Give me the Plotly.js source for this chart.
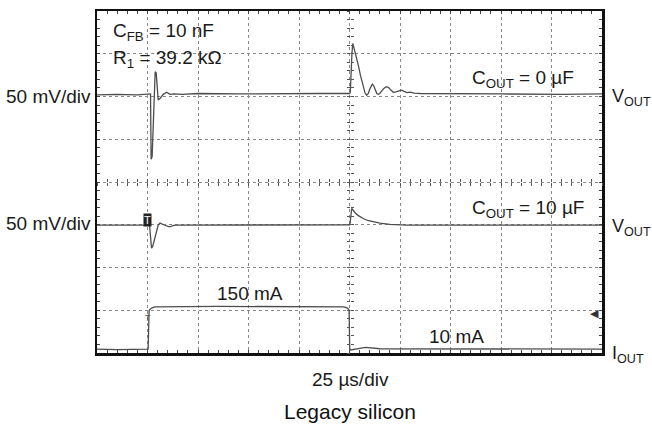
<!DOCTYPE html>
<html>
<head>
<meta charset="utf-8">
<script src="https://cdn.plot.ly/plotly-3.0.1.min.js"></script>
<style>html,body{margin:0;padding:0;background:#fff;}#chart{width:652px;height:424px;}</style>
</head>
<body>
<div id="chart"></div>
<script>
// time in microseconds (25 us/div, 10 divisions), amplitude in screen divisions (8 divisions)
var t1 = [0, 10, 20, 25.6, 26.5, 26.8, 27.3, 28.8, 29.3, 30.3, 31.3, 32.8, 34.5, 36.1, 38, 42, 50, 70, 90, 110, 125.0, 125.4, 126.2, 126.6,
          127.3, 128.0, 128.8, 129.6, 130.4, 131.2, 132.0, 132.7, 133.5, 134.3, 135.0, 135.7, 136.3, 137.0, 137.8, 138.5, 139.2, 140.0,
          141.0, 142.0, 143.2, 144.4, 145.5, 146.7, 148.0, 149.5, 150.8, 152.0, 153.5, 155, 157, 160, 170, 200, 230, 250];
var v1 = [6.04, 6.05, 6.04, 6.05, 6.06, 4.53, 4.60, 6.58, 6.55, 5.92, 5.96, 6.05, 6.10, 6.05, 6.06, 6.05, 6.07, 6.06, 6.07, 6.07, 6.07, 6.10, 7.00, 7.24,
          7.12, 7.00, 6.85, 6.68, 6.50, 6.33, 6.18, 6.08, 6.03, 6.07, 6.17, 6.26, 6.29, 6.25, 6.15, 6.07, 6.05, 6.07,
          6.13, 6.19, 6.23, 6.21, 6.15, 6.10, 6.11, 6.14, 6.15, 6.12, 6.09, 6.10, 6.08, 6.07, 6.07, 6.06, 6.05, 6.06];

var t2 = [0, 20, 25.4, 26.0, 27.0, 27.6, 30.3, 31.2, 33, 35.8, 38.6, 50, 80, 110, 125.1, 125.2, 126.1, 127.0, 128.0, 129.2, 130.5, 132.0, 134.0, 136.8, 140.0, 145.0, 153.3, 180, 220, 250];
var v2 = [2.99, 2.99, 2.99, 2.99, 2.45, 2.50, 2.99, 3.04, 3.00, 2.95, 2.99, 2.99, 2.99, 2.99, 2.99, 3.00, 3.38, 3.32, 3.27, 3.22, 3.18, 3.14, 3.10, 3.07, 3.04, 3.01, 2.99, 2.99, 2.99, 2.99];

var t3 = [0, 10, 25.3, 25.4, 25.8, 27.0, 28.7, 60, 100, 122.2, 124.0, 124.8, 125.1, 125.6, 130, 133, 140, 180, 250];
var i3 = [0.09, 0.08, 0.09, 0.70, 1.00, 1.05, 1.08, 1.09, 1.08, 1.08, 1.05, 1.00, 0.10, 0.07, 0.11, 0.13, 0.10, 0.09, 0.09];

var xRange = [0, 250];
var yRange = [0, 8];
var xDiv = 25, yDiv = 1;

var lineStyle = {color: '#4d4d4d', width: 1.3};
var traces = [
  {x: t1, y: v1, type: 'scatter', mode: 'lines', line: lineStyle, hoverinfo: 'skip', showlegend: false},
  {x: t2, y: v2, type: 'scatter', mode: 'lines', line: lineStyle, hoverinfo: 'skip', showlegend: false},
  {x: t3, y: i3, type: 'scatter', mode: 'lines', line: lineStyle, hoverinfo: 'skip', showlegend: false},
  {x: [], y: [], xaxis: 'x2', yaxis: 'y', hoverinfo: 'skip', showlegend: false},
  {x: [], y: [], xaxis: 'x3', yaxis: 'y', hoverinfo: 'skip', showlegend: false},
  {x: [], y: [], xaxis: 'x', yaxis: 'y2', hoverinfo: 'skip', showlegend: false},
  {x: [], y: [], xaxis: 'x', yaxis: 'y3', hoverinfo: 'skip', showlegend: false}
];

var F = 'Liberation Sans, Arial, sans-serif';
function centerAxis(extra) {
  var a = {showgrid: false, zeroline: false, showline: false, showticklabels: false,
           ticklen: 3, tickwidth: 1, tickcolor: '#555', fixedrange: true};
  for (var k in extra) a[k] = extra[k];
  return a;
}
var sideFont = {family: F, size: 18, color: '#1a1a1a'};

var layout = {
  width: 652, height: 424,
  margin: {l: 97, r: 50, t: 11, b: 71},
  paper_bgcolor: '#fff', plot_bgcolor: '#fff',
  font: {family: F, size: 19, color: '#1a1a1a'},
  xaxis: {range: xRange, dtick: xDiv, tick0: 0, showgrid: true, gridcolor: '#8a8a8a', griddash: 'dot', gridwidth: 1,
          zeroline: false, showline: true, linecolor: '#111', linewidth: 2.5, mirror: 'allticks',
          ticks: 'inside', ticklen: 3, tickcolor: '#444', showticklabels: false,
          minor: {dtick: 5, ticks: 'inside', ticklen: 3, tickcolor: '#444', showgrid: false}, fixedrange: true},
  yaxis: {range: yRange, dtick: yDiv, tick0: 0, showgrid: true, gridcolor: '#8a8a8a', griddash: 'dot', gridwidth: 1,
          zeroline: false, showline: true, linecolor: '#111', linewidth: 2.5, mirror: 'allticks',
          ticks: 'inside', ticklen: 3, tickcolor: '#444', showticklabels: false,
          minor: {dtick: 0.2, ticks: 'inside', ticklen: 3, tickcolor: '#444', showgrid: false}, fixedrange: true},
  xaxis2: centerAxis({overlaying: 'x', anchor: 'free', position: 0.5, range: xRange, dtick: 5, ticks: 'outside'}),
  xaxis3: centerAxis({overlaying: 'x', anchor: 'free', position: 0.5, range: xRange, dtick: 5, ticks: 'inside'}),
  yaxis2: centerAxis({overlaying: 'y', anchor: 'free', position: 0.5, range: yRange, dtick: 0.2, ticks: 'outside'}),
  yaxis3: centerAxis({overlaying: 'y', anchor: 'free', position: 0.5, range: yRange, dtick: 0.2, ticks: 'inside'}),
  annotations: [
    {text: 'C<sub>FB</sub> = 10 nF', x: 6.9, y: 7.5, xref: 'x', yref: 'y', xanchor: 'left', yanchor: 'middle', showarrow: false},
    {text: 'R<sub>1</sub> = 39.2 kΩ', x: 6.9, y: 6.88, xref: 'x', yref: 'y', xanchor: 'left', yanchor: 'middle', showarrow: false},
    {text: 'C<sub>OUT</sub> = 0 µF', x: 184.6, y: 6.42, xref: 'x', yref: 'y', xanchor: 'left', yanchor: 'middle', showarrow: false},
    {text: 'C<sub>OUT</sub> = 10 µF', x: 184.6, y: 3.38, xref: 'x', yref: 'y', xanchor: 'left', yanchor: 'middle', showarrow: false},
    {text: '150 mA', x: 58.4, y: 1.40, xref: 'x', yref: 'y', xanchor: 'left', yanchor: 'middle', showarrow: false},
    {text: '10 mA', x: 163.3, y: 0.38, xref: 'x', yref: 'y', xanchor: 'left', yanchor: 'middle', showarrow: false},
    {text: 'T', x: 25.0, y: 3.12, xref: 'x', yref: 'y', xanchor: 'center', yanchor: 'middle', showarrow: false,
     bgcolor: '#222', font: {size: 11, color: '#fff', family: F}, borderpad: 0},
    {text: 'T', x: 25.3, y: 0.82, xref: 'x', yref: 'y', xanchor: 'center', yanchor: 'middle', showarrow: false,
     font: {size: 9, color: '#555', family: F}},
    {text: '◀', x: 246.5, y: 0.93, xref: 'x', yref: 'y', xanchor: 'center', yanchor: 'middle', showarrow: false,
     font: {size: 11, color: '#333', family: 'DejaVu Sans'}},
    {text: '50 mV/div', x: -0.008, y: 0.749, xref: 'paper', yref: 'paper', xanchor: 'right', yanchor: 'middle', showarrow: false},
    {text: '50 mV/div', x: -0.008, y: 0.378, xref: 'paper', yref: 'paper', xanchor: 'right', yanchor: 'middle', showarrow: false},
    {text: 'V<sub>OUT</sub>', x: 1.015, y: 0.748, xref: 'paper', yref: 'paper', xanchor: 'left', yanchor: 'middle', showarrow: false, font: sideFont},
    {text: 'V<sub>OUT</sub>', x: 1.015, y: 0.368, xref: 'paper', yref: 'paper', xanchor: 'left', yanchor: 'middle', showarrow: false, font: sideFont},
    {text: 'I<sub>OUT</sub>', x: 1.015, y: -0.005, xref: 'paper', yref: 'paper', xanchor: 'left', yanchor: 'middle', showarrow: false, font: sideFont},
    {text: '25 µs/div', x: 0.501, y: -0.078, xref: 'paper', yref: 'paper', xanchor: 'center', yanchor: 'middle', showarrow: false},
    {text: 'Legacy silicon', x: 0.501, y: -0.17, xref: 'paper', yref: 'paper', xanchor: 'center', yanchor: 'middle', showarrow: false,
     font: {size: 21, color: '#111', family: F}}
  ]
};

Plotly.newPlot('chart', traces, layout, {displayModeBar: false, staticPlot: true});
</script>
</body>
</html>
